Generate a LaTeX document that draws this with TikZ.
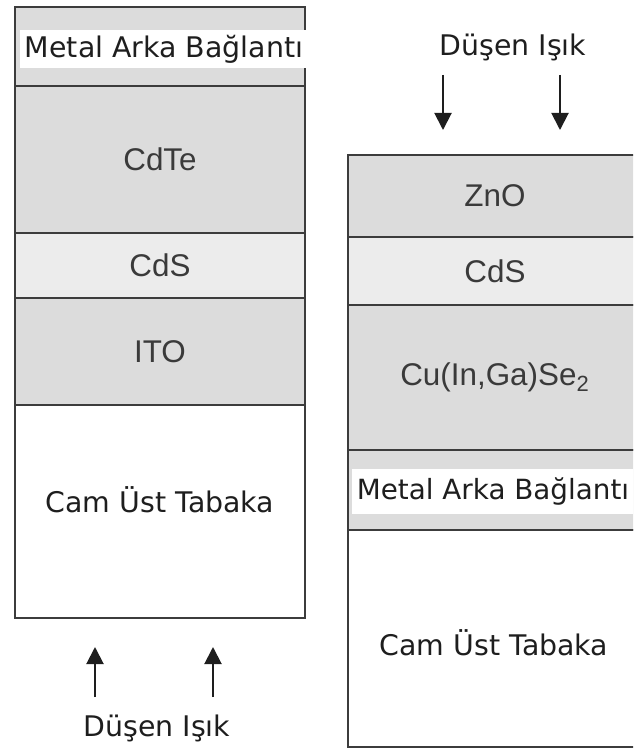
\documentclass[tikz,border=0pt]{standalone}
\usepackage{fontspec}
\usetikzlibrary{arrows.meta}
\newfontfamily\verdanafont{DejaVu Sans}
\newfontfamily\arialfont{Liberation Sans}
\definecolor{layergray}{RGB}{220,220,220}
\definecolor{layerlight}{RGB}{236,236,236}
\definecolor{edgegray}{RGB}{60,60,60}
\definecolor{labelgray}{RGB}{58,58,58}
\definecolor{labeldark}{RGB}{30,30,30}

\begin{document}
\begin{tikzpicture}[x=0.5pt, y=-0.5pt, >={Triangle[length=8.5pt,width=8.5pt]},
  layer/.style={rectangle, draw=edgegray, line width=1pt, fill=layergray, inner sep=0pt, font=\arialfont\fontsize{15.7}{18}\selectfont, text=labelgray},
  tag/.style={inner sep=0pt, font=\verdanafont\fontsize{14.2}{17}\selectfont, text=labeldark},
  band/.style={tag, fill=white, inner xsep=2.5pt, minimum height=19pt},
  ray/.style={->, line width=1pt, draw=labeldark}]
\clip (0,0) rectangle (633,754);
\useasboundingbox (0,0) rectangle (633,754);
% Left stack (CdTe)
\node[layer, minimum width=145pt, minimum height=39.5pt] (metalL) at (160,46.5) {};
\node[layer, minimum width=145pt, minimum height=73.5pt] (cdte) at (160,159.5) {CdTe};
\node[layer, fill=layerlight, minimum width=145pt, minimum height=32.5pt] (cdsL) at (160,265.5) {CdS};
\node[layer, minimum width=145pt, minimum height=53.5pt] (ito) at (160,351.5) {ITO};
\node[layer, fill=white, minimum width=145pt, minimum height=106.5pt] (camL) at (160,511.5) {};
\node[band] (metalLtext) at (164,49) {Metal Arka Bağlantı};
\node[tag] (camLtext) at (160,500) {Cam Üst Tabaka};
% Right stack (CIGS)
\node[layer, minimum width=147pt, minimum height=41pt] (zno) at (495,196) {ZnO};
\node[layer, fill=layerlight, minimum width=147pt, minimum height=34pt] (cdsR) at (495,271) {CdS};
\node[layer, minimum width=147pt, minimum height=72.5pt] (cigs) at (495,377.5) {Cu(In,Ga)Se\textsubscript{2}};
\node[layer, minimum width=147pt, minimum height=40pt] (metalR) at (495,490) {};
\node[layer, fill=white, minimum width=147pt, minimum height=108.5pt] (camR) at (495,638.5) {};
\node[band, minimum height=22.5pt, font=\verdanafont\fontsize{13.9}{17}\selectfont] (metalRtext) at (493,491) {Metal Arka Bağlantı};
\node[tag] (camRtext) at (494,643) {Cam Üst Tabaka};
% Incident light
\node[tag] (lightL) at (157,728) {Düşen Işık};
\node[tag] (lightR) at (513,47) {Düşen Işık};
\coordinate (srcL1) at (95,697);
\coordinate (hitL1) at (95,647);
\coordinate (srcL2) at (213,697);
\coordinate (hitL2) at (213,647);
\coordinate (srcR1) at (443,75);
\coordinate (hitR1) at (443,130);
\coordinate (srcR2) at (560,75);
\coordinate (hitR2) at (560,130);
\draw[ray] (srcL1) -- (hitL1);
\draw[ray] (srcL2) -- (hitL2);
\draw[ray] (srcR1) -- (hitR1);
\draw[ray] (srcR2) -- (hitR2);
\end{tikzpicture}
\end{document}
